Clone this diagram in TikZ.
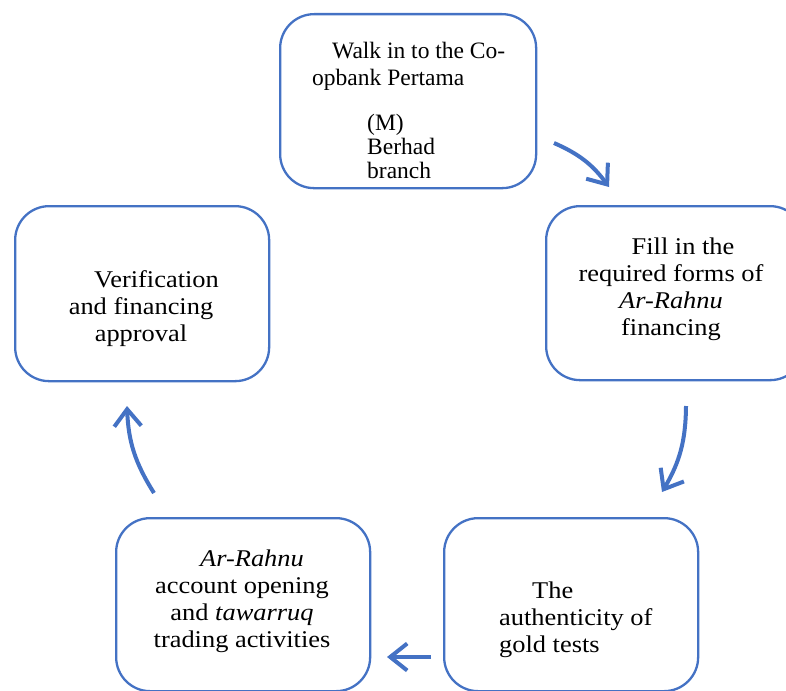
\documentclass[tikz,border=0pt]{standalone}
\usepackage{fontspec}
\setmainfont{Liberation Serif}[FakeStretch=1.1]
\newfontfamily\narrowserif{Liberation Serif}
\usetikzlibrary{arrows.meta}
\definecolor{flowblue}{HTML}{4472C4}

\begin{document}
\begin{tikzpicture}[x=1pt,y=-1pt]
  \tikzset{stage/.style={draw=flowblue,line width=2.3pt,rounded corners=34pt,minimum width=254pt,minimum height=174pt,anchor=north west,inner sep=0pt},
    words/.style={inner sep=0pt,font=\fontsize{24}{27}\selectfont},
    flow/.style={draw=flowblue,line width=4pt,-{Straight Barb[length=17pt,width=27pt]}}}
  \useasboundingbox (0,0) rectangle (786,690);
  % the five steps
  \node(walk)[stage,at={(279,13)},minimum width=256pt]{};
  \node(fill)[stage,at={(545,205)},minimum width=258pt]{};
  \node(gold)[stage,at={(443,517)},minimum height=173pt]{};
  \node(open)[stage,at={(115,517)},minimum height=173pt]{};
  \node(verify)[stage,at={(14,205)},minimum height=175pt]{};
  % their texts
  \node(walktext)[words,font=\narrowserif\fontsize{23.5}{27}\selectfont,align=left,anchor=north west,at={(312,42)}]{\hspace*{20pt}Walk in to the Co-\\opbank Pertama\\[18pt]\hspace*{55pt}(M)\\[-3pt]\hspace*{55pt}Berhad\\[-3pt]\hspace*{55pt}branch};
  \node(filltext)[words,align=center,anchor=north,at={(671,237.6)}]{\hspace*{24pt}Fill in the\\required forms of\\\textit{Ar-Rahnu}\\financing};
  \node(goldtext)[words,align=left,anchor=north west,at={(499,581.6)}]{\hspace*{33pt}The\\authenticity of\\gold tests};
  \node(opentext)[words,align=center,anchor=north,at={(242,549.6)}]{\hspace*{20pt}\textit{Ar-Rahnu}\\account opening\\and \textit{tawarruq}\\trading activities};
  \node(verifytext)[words,align=center,anchor=north,at={(141,270.6)}]{\hspace*{31pt}Verification\\and financing\\approval};
  % arrow ends
  \coordinate(a1) at (554,143); \coordinate(b1) at (609,187);
  \coordinate(a2) at (686,406); \coordinate(b2) at (662,492);
  \coordinate(a3) at (431,657); \coordinate(b3) at (387,657);
  \coordinate(a4) at (154,493); \coordinate(b4) at (127,406);
  \foreach\x/\bnd in {1/15,2/15,3/0,4/15}{\draw[flow](a\x) to[bend left=\bnd] (b\x);}
\end{tikzpicture}
\end{document}
